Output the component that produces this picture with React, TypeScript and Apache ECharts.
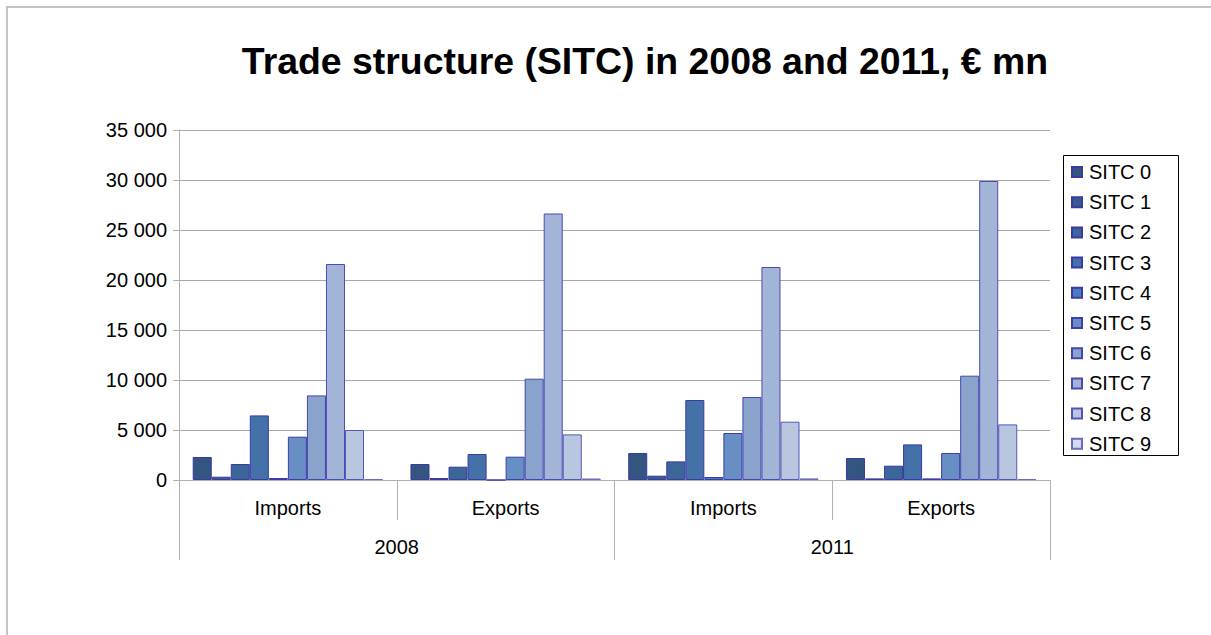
import React, { useEffect, useRef } from "react";
import * as echarts from "echarts";

const years = ["2008", "2011"];
const flows = ["Imports", "Exports"];
const seriesNames = ["SITC 0", "SITC 1", "SITC 2", "SITC 3", "SITC 4", "SITC 5", "SITC 6", "SITC 7", "SITC 8", "SITC 9"];
// values per category: Imports 2008, Exports 2008, Imports 2011, Exports 2011
const sitc0 = [2300, 1600, 2700, 2200];
const sitc1 = [330, 200, 430, 160];
const sitc2 = [1600, 1330, 1860, 1430];
const sitc3 = [6460, 2600, 8000, 3560];
const sitc4 = [200, 0, 300, 160];
const sitc5 = [4330, 2330, 4700, 2700];
const sitc6 = [8460, 10130, 8300, 10430];
const sitc7 = [21600, 26650, 21300, 29900];
const sitc8 = [5000, 4560, 5830, 5560];
const sitc9 = [100, 150, 160, 100];
const yTicks = [0, 5000, 10000, 15000, 20000, 25000, 30000, 35000];

const seriesValues = [sitc0, sitc1, sitc2, sitc3, sitc4, sitc5, sitc6, sitc7, sitc8, sitc9];
const fills = ["#33557f", "#365b8c", "#3c6699", "#4472a8", "#4a7dbb", "#678fc4", "#8aa3cc", "#a3b5d6", "#b9c6e0", "#d2dbee"];
const borders = ["#3a3aa0", "#3a3aa0", "#3a3aa0", "#3a3aa8", "#3a3aa8", "#3d3dab", "#4545b0", "#4a4ab4", "#5555b8", "#6a6ac0"];

const categories: string[] = [];
years.forEach((y) => flows.forEach((f) => categories.push(f + "|" + y)));

const FONT = '"Liberation Sans", Arial, sans-serif';

export default function App() {
  const ref = useRef<HTMLDivElement>(null);
  useEffect(() => {
    if (!ref.current) return;
    const chart = echarts.init(ref.current, undefined, { renderer: "svg" });
    chart.setOption({
      animation: false,
      backgroundColor: "#ffffff",
      textStyle: { fontFamily: FONT },
      graphic: [
        {
          type: "rect",
          shape: { x: 7, y: 7, width: 1300, height: 700 },
          style: { fill: "none", stroke: "#c3c3c3", lineWidth: 2 },
          silent: true,
        },
        {
          type: "text",
          x: 645,
          y: 61,
          style: {
            text: "Trade structure (SITC) in 2008 and 2011, € mn",
            font: "bold 37.4px " + FONT,
            fill: "#000000",
            textAlign: "center",
            textVerticalAlign: "middle",
          },
        },
        {
          type: "rect",
          shape: { x: 1063.5, y: 155.5, width: 115, height: 300 },
          style: { fill: "none", stroke: "#000000", lineWidth: 1 },
          silent: true,
        },
      ],
      legend: {
        orient: "vertical",
        left: 1071,
        top: 162,
        padding: 0,
        itemWidth: 10,
        itemHeight: 10,
        itemGap: 10.2,
        icon: "rect",
        data: seriesNames,
        textStyle: { fontSize: 20, color: "#000", fontFamily: FONT, lineHeight: 20, padding: [0, 0, 0, 2] },
      },
      grid: { left: 179, right: 161, top: 130, bottom: 155, containLabel: false },
      xAxis: [
        {
          type: "category",
          data: categories,
          position: "bottom",
          axisLine: { show: true, lineStyle: { color: "#b0b0b0", width: 1 } },
          axisTick: { show: true, length: 40, lineStyle: { color: "#b0b0b0" } },
          axisLabel: {
            formatter: (v: string) => v.split("|")[0],
            fontSize: 20,
            color: "#000",
            margin: 18,
            fontFamily: FONT,
          },
        },
        {
          type: "category",
          data: years,
          position: "bottom",
          offset: 40,
          axisLine: { show: false },
          axisTick: { show: true, length: 40, lineStyle: { color: "#b0b0b0" } },
          axisLabel: { fontSize: 20, color: "#000", margin: 17, fontFamily: FONT },
        },
      ],
      yAxis: {
        type: "value",
        min: yTicks[0],
        max: yTicks[yTicks.length - 1],
        interval: 5000,
        axisLine: { show: true, lineStyle: { color: "#b0b0b0" } },
        axisTick: { show: true, length: 6, lineStyle: { color: "#b0b0b0" } },
        splitLine: { show: true, lineStyle: { color: "#a8a8a8", width: 1 } },
        axisLabel: {
          fontSize: 20,
          color: "#000",
          margin: 12,
          fontFamily: FONT,
          formatter: (v: number) => String(v).replace(/\B(?=(\d{3})+(?!\d))/g, " "),
        },
      },
      series: seriesNames.map((name, i) => ({
        name,
        type: "bar",
        xAxisIndex: 0,
        data: seriesValues[i],
        barGap: "0%",
        barCategoryGap: "12.6%",
        itemStyle: { color: fills[i], borderColor: borders[i], borderWidth: 1 },
      })),
    });
    return () => chart.dispose();
  }, []);
  return (
    <div
      ref={ref}
      style={{ position: "fixed", left: 0, top: 0, width: 1211, height: 635, background: "#fff" }}
    />
  );
}
